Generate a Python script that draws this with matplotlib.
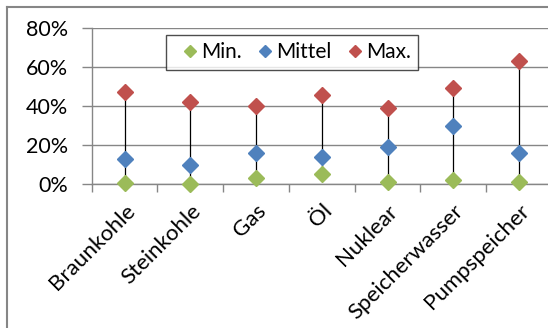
import numpy as np
import matplotlib.pyplot as plt
from matplotlib.lines import Line2D

categories = ['Braunkohle', 'Steinkohle', 'Gas', 'Öl', 'Nuklear', 'Speicherwasser', 'Pumpspeicher']
min_vals = [0.3, 0, 3, 5, 1, 2, 1]
mittel_vals = [13, 10, 16, 14, 19, 30, 16]
max_vals = [47, 42, 40, 45.5, 39, 49, 63]

green = '#9BBB59'
blue = '#4F81BD'
red = '#C0504D'
grey = '#868686'

plt.rcParams['font.family'] = ['Lato', 'DejaVu Sans']

fig = plt.figure(figsize=(5.48, 3.28), dpi=100)
W, H = 548, 328
ax = fig.add_axes([91.7 / W, 1 - 184 / H, (552 - 91.7) / W, (184 - 28) / H])

x = np.arange(len(categories))

# high-low lines
ax.vlines(x, min_vals, max_vals, color='black', lw=0.9, zorder=2)

for vals, col, lab in [(min_vals, green, 'Min.'), (mittel_vals, blue, 'Mittel'), (max_vals, red, 'Max.')]:
    ax.plot(x, vals, 'D', color=col, ms=8, ls='none', label=lab, zorder=3, clip_on=False)

ax.set_xlim(-0.5, 6.5)
ax.set_ylim(0, 80)
ax.set_yticks([0, 20, 40, 60, 80])
ax.set_yticklabels(['0%', '20%', '40%', '60%', '80%'], fontsize=15.5)
ax.yaxis.grid(True, color=grey, lw=1)
ax.set_axisbelow(True)

ax.set_xticks(np.arange(-0.5, 7, 1))
ax.set_xticklabels([])
ax.set_xticks(x, minor=True)
ax.set_xticklabels(categories, minor=True, rotation=45, ha='right', va='top',
                   rotation_mode='anchor', fontsize=16)
ax.tick_params(axis='x', which='minor', length=0, pad=12)
ax.tick_params(axis='x', which='major', length=5.4, color=grey, width=1)
ax.tick_params(axis='y', length=7, color=grey, width=1, pad=10)

for s in ['top', 'right']:
    ax.spines[s].set_visible(False)
for s in ['left', 'bottom']:
    ax.spines[s].set_color(grey)
    ax.spines[s].set_linewidth(1)

leg = ax.legend(loc='upper left', bbox_to_anchor=((166 - 91.7) / (552 - 91.7), (184 - 35) / (184 - 28)),
                ncol=3, fontsize=15, frameon=True, fancybox=False, edgecolor='#202020',
                handletextpad=-0.25, columnspacing=0.3, borderpad=0.35, handlelength=1.6,
                borderaxespad=0, markerscale=0.8)
leg.get_frame().set_linewidth(1)

# chart area border (left and top visible)
fig.add_artist(Line2D([7 / W, 7 / W], [0, 1 - 7 / H], color=grey, lw=1.5))
fig.add_artist(Line2D([7 / W, 1], [1 - 7 / H, 1 - 7 / H], color=grey, lw=1.5))

fig.savefig('out.png', dpi=100)
